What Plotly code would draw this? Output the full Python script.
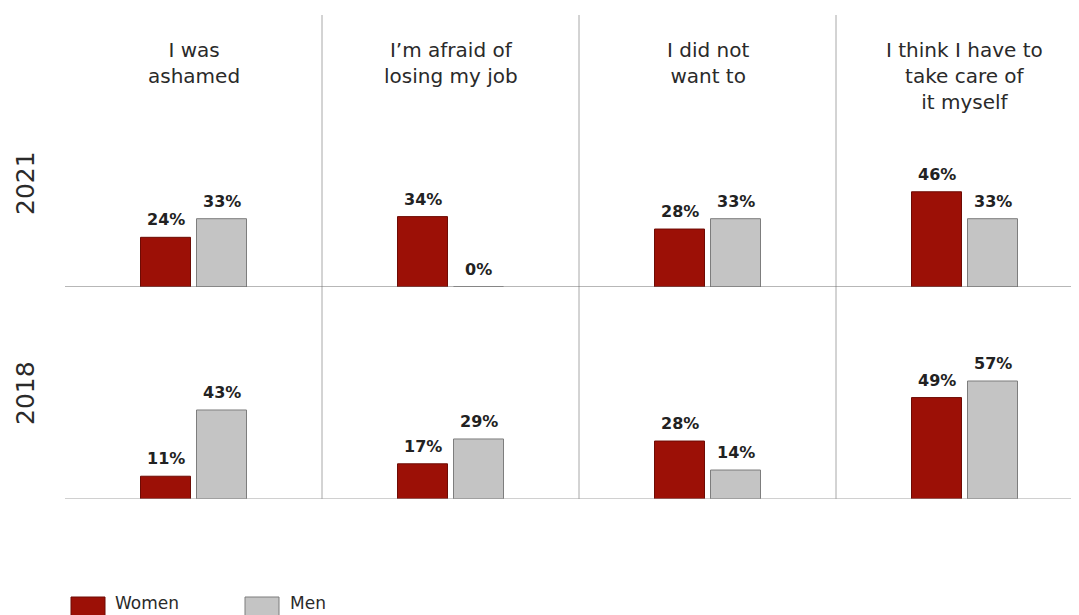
import plotly.graph_objects as go

W, H = 1079, 615
SH = 8  # the page body adds an 8px margin; layout is measured in page pixels

categories = ["I was<br>ashamed", "I’m afraid of<br>losing my job", "I did not<br>want to",
              "I think I have to<br>take care of<br>it myself"]
cat_keys = ["c1", "c2", "c3", "c4"]
years = ["2021", "2018"]
women_2021 = [24, 34, 28, 46]
men_2021 = [33, 0, 33, 33]
women_2018 = [11, 17, 28, 49]
men_2018 = [43, 29, 14, 57]
series_names = ["Women", "Men"]

RED = "#9c1006"
RED_LINE = "#6e0b04"
GRAY = "#c4c4c4"
GRAY_LINE = "#7d7d7d"
FONT = "DejaVu Sans"
TXT = "#2a2a2a"

def px(p):
    return (p - SH) / W

def py(p):
    return 1 - (p - SH) / H

unit = 257.0  # px per category panel
x0 = 65 - SH
bar_w = 50 / unit
off_w = -53 / unit
off_m = 3 / unit
xrange = [-0.5, -0.5 + (W - x0) / unit]
pxper = 2.07

fig = go.Figure()
rows = [("x", "y", women_2021, men_2021), ("x2", "y2", women_2018, men_2018)]
for xa, ya, wv, mv in rows:
    fig.add_trace(go.Bar(x=cat_keys, y=wv, xaxis=xa, yaxis=ya, name=series_names[0],
                         offset=off_w, width=bar_w, showlegend=False,
                         marker=dict(color=RED, line=dict(color=RED_LINE, width=1))))
    fig.add_trace(go.Bar(x=cat_keys, y=mv, xaxis=xa, yaxis=ya, name=series_names[1],
                         offset=off_m, width=bar_w, showlegend=False,
                         marker=dict(color=GRAY, line=dict(color=GRAY_LINE, width=1))))

annotations = []
# value labels
for xa, ya, wv, mv in rows:
    for k, a, b in zip(cat_keys, wv, mv):
        for v, sh in ((a, -28), (b, 28)):
            annotations.append(dict(x=k, y=v, xref=xa, yref=ya, text=f"{v}%", showarrow=False,
                                    xshift=sh, yshift=6, yanchor="bottom",
                                    font=dict(family=FONT, size=16, color="#222222", weight="bold")))
# category titles
for k, c in zip(cat_keys, categories):
    annotations.append(dict(x=k, xref="x", y=py(36), yref="paper", text=c,
                            showarrow=False, yanchor="top",
                            font=dict(family=FONT, size=20, color=TXT)))
# year labels
for yr, cy in zip(years, [183, 393]):
    annotations.append(dict(x=px(25), xref="paper", y=py(cy), yref="paper", text=yr, textangle=-90,
                            showarrow=False, xanchor="center", yanchor="middle",
                            font=dict(family=FONT, size=25, color=TXT)))

shapes = []
# baselines
for ya, lc in [("y", "#6e6e6e"), ("y2", "#a0a0a0")]:
    shapes.append(dict(type="line", xref="paper", x0=x0 / W, x1=1, yref=ya, y0=0, y1=0,
                       line=dict(color=lc, width=1)))
# panel separators
for sx in [0.5, 1.5, 2.5]:
    shapes.append(dict(type="line", xref="x", x0=sx, x1=sx, yref="paper", y0=py(15), y1=py(499),
                       line=dict(color="#a8a8a8", width=1), layer="below"))

# custom legend
leg = [(series_names[0], RED, RED_LINE, 71, 113), (series_names[1], GRAY, GRAY_LINE, 245, 288)]
for name, fc, lc, sx, tx in leg:
    shapes.append(dict(type="rect", xref="paper", yref="paper", x0=px(sx), x1=px(sx + 34),
                       y0=py(597), y1=py(630), fillcolor=fc, line=dict(color=lc, width=1)))
    annotations.append(dict(x=px(tx), xref="paper", y=py(603), yref="paper", text=name,
                            showarrow=False, xanchor="left", yanchor="middle",
                            font=dict(family=FONT, size=17, color=TXT)))

axis_common = dict(type="category", categoryorder="array", categoryarray=cat_keys, range=xrange,
                   domain=[x0 / W, 1], showgrid=False, zeroline=False, showline=False,
                   showticklabels=False, ticks="", fixedrange=True)
fig.update_layout(
    width=W, height=H, margin=dict(l=0, r=0, t=0, b=0),
    paper_bgcolor="white", plot_bgcolor="rgba(0,0,0,0)",
    barmode="overlay", showlegend=False,
    xaxis=dict(anchor="y", **axis_common),
    xaxis2=dict(anchor="y2", matches="x", **axis_common),
    yaxis=dict(domain=[py(287), py(14)], range=[0, (287 - 14) / pxper], visible=False, fixedrange=True),
    yaxis2=dict(domain=[py(499), py(290)], range=[0, (499 - 290) / pxper], visible=False, fixedrange=True),
    annotations=annotations, shapes=shapes,
    font=dict(family=FONT),
)
fig.write_html("out.html", config={"displayModeBar": False})
